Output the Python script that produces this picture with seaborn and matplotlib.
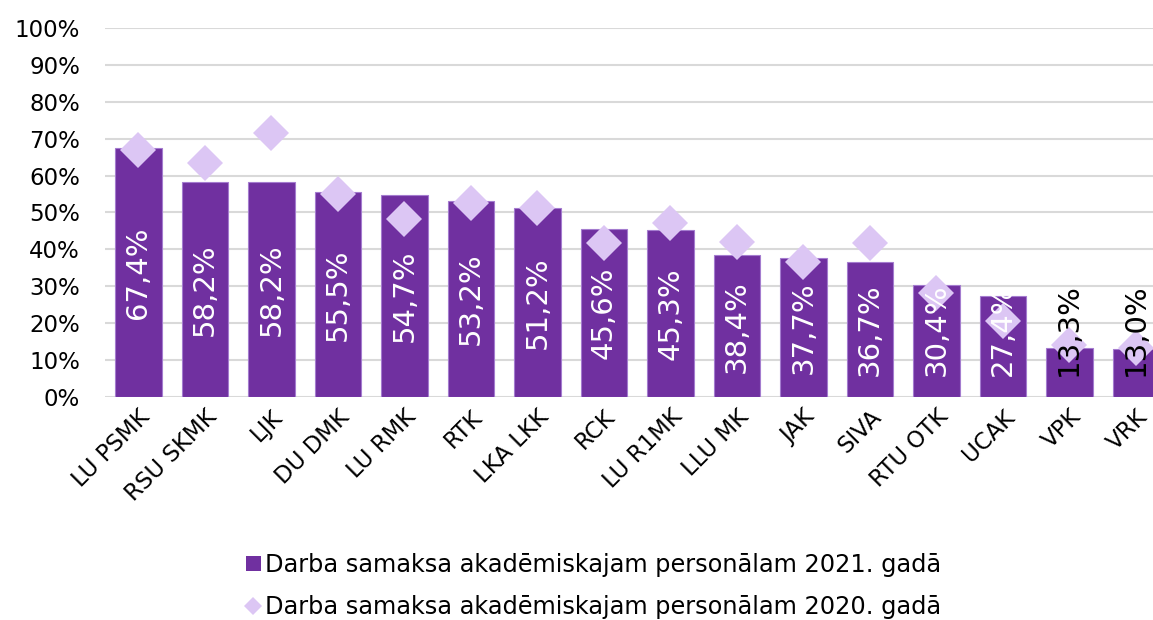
import matplotlib
matplotlib.use("Agg")
import matplotlib.pyplot as plt
import seaborn as sns
import numpy as np
import pandas as pd
from matplotlib.patches import Patch
from matplotlib.lines import Line2D

categories = ["LU PSMK", "RSU SKMK", "LJK", "DU DMK", "LU RMK", "RTK", "LKA LKK",
              "RCK", "LU R1MK", "LLU MK", "JAK", "SIVA", "RTU OTK", "UCAK", "VPK", "VRK"]
values_2021 = [67.4, 58.2, 58.2, 55.5, 54.7, 53.2, 51.2, 45.6, 45.3, 38.4, 37.7, 36.7,
               30.4, 27.4, 13.3, 13.0]
values_2020 = [66.8, 63.3, 71.6, 55.1, 48.1, 52.7, 51.3, 41.7, 47.2, 42.1, 36.5, 41.8,
               28.1, 20.6, 14.0, 13.2]
yticks = list(range(0, 101, 10))

label_2021 = "Darba samaksa akadēmiskajam personālam 2021. gadā"
label_2020 = "Darba samaksa akadēmiskajam personālam 2020. gadā"

bar_color = "#7030A0"
dia_color = "#DCC6F4"

df = pd.DataFrame({"cat": categories, "v21": values_2021, "v20": values_2020})

sns.set_style("white")
plt.rcParams["font.family"] = ["DejaVu Sans"]
plt.rcParams["text.color"] = "black"
plt.rcParams["xtick.color"] = "black"
plt.rcParams["ytick.color"] = "black"

fig = plt.figure(figsize=(11.53, 6.2), dpi=100)
ax = fig.add_axes([0.0911, 0.3597, 0.9228, 0.5952])

sns.barplot(data=df, x="cat", y="v21", color=bar_color, width=0.7,
            saturation=1, ax=ax, zorder=2, edgecolor="#A47CCF", linewidth=0.8)
sns.pointplot(data=df, x="cat", y="v20", color=dia_color, markers="D",
              linestyles="none", markersize=18.5, errorbar=None, ax=ax, zorder=3)
for ln in ax.lines:
    ln.set_markeredgewidth(0)
    ln.set_zorder(3)

# value labels, rotated in bars
for i, v in enumerate(values_2021):
    y = max(v / 2, 18.3)
    col = "black" if v < 20 else "white"
    ax.text(i, y, f"{v:.1f}%".replace(".", ","), rotation=90, ha="center",
            va="center", fontsize=21, color=col, zorder=4)

ax.set_ylim(0, 100)
ax.set_xlim(-0.5, len(categories) - 0.5)
ax.set_yticks(yticks)
ax.set_yticklabels([f"{t}%" for t in yticks], fontsize=16.5)
ax.yaxis.grid(True, color="#D9D9D9", linewidth=1.5, zorder=0)
ax.set_axisbelow(True)
for s in ax.spines.values():
    s.set_visible(False)
ax.tick_params(axis="y", length=0, pad=18)
ax.tick_params(axis="x", length=0, pad=6)
ax.set_xticks(range(len(categories)))
ax.set_xticklabels(categories, rotation=45, ha="right", rotation_mode="anchor",
                   fontsize=16.5)
ax.set_xlabel("")
ax.set_ylabel("")

handles = [Patch(facecolor=bar_color, edgecolor="none", label=label_2021),
           Line2D([], [], marker="D", linestyle="none", markersize=9,
                  markerfacecolor=dia_color, markeredgewidth=0, label=label_2020)]
fig.legend(handles=handles, loc="center", bbox_to_anchor=(0.515, 0.055),
           ncol=1, frameon=False, fontsize=17.3, handlelength=0.6,
           handleheight=0.6, handletextpad=0.2, labelspacing=0.75)

fig.savefig("out.png", dpi=100)
